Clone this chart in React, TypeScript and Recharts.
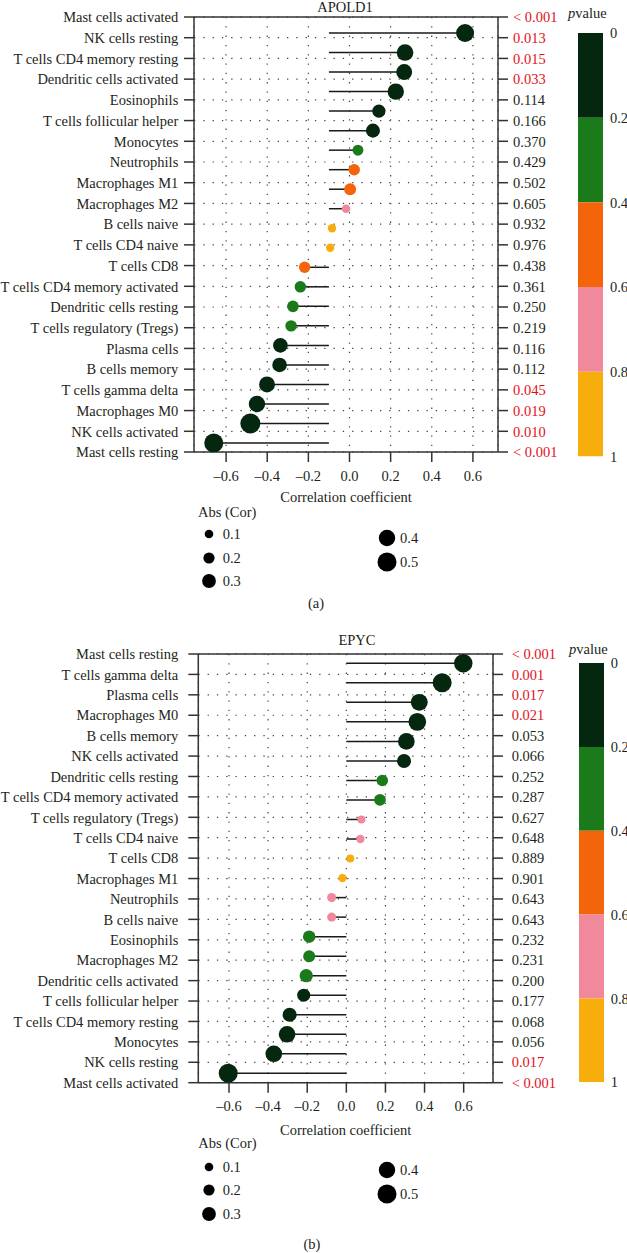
import React from "react";
import {
  Bar,
  BarChart,
  CartesianGrid,
  ErrorBar,
  ReferenceLine,
  Scatter,
  ScatterChart,
  XAxis,
  YAxis,
} from "recharts";

// ---- data: panel (a) APOLD1 ----
const cellsA = [
  "Mast cells activated",
  "NK cells resting",
  "T cells CD4 memory resting",
  "Dendritic cells activated",
  "Eosinophils",
  "T cells follicular helper",
  "Monocytes",
  "Neutrophils",
  "Macrophages M1",
  "Macrophages M2",
  "B cells naive",
  "T cells CD4 naive",
  "T cells CD8",
  "T cells CD4 memory activated",
  "Dendritic cells resting",
  "T cells regulatory (Tregs)",
  "Plasma cells",
  "B cells memory",
  "T cells gamma delta",
  "Macrophages M0",
  "NK cells activated",
  "Mast cells resting",
];
const corA = [
  0.562, 0.27, 0.266, 0.225, 0.143, 0.114, 0.041, 0.023, 0.003, -0.017, -0.085,
  -0.094, -0.218, -0.239, -0.275, -0.284, -0.336, -0.34, -0.401, -0.45, -0.482,
  -0.66,
];
const absA = [
  0.46, 0.41, 0.38, 0.4, 0.28, 0.31, 0.19, 0.21, 0.23, 0.1, 0.09, 0.09, 0.21,
  0.21, 0.22, 0.21, 0.33, 0.33, 0.38, 0.4, 0.54, 0.5,
];
const pA = [
  "< 0.001", "0.013", "0.015", "0.033", "0.114", "0.166", "0.370", "0.429",
  "0.502", "0.605", "0.932", "0.976", "0.438", "0.361", "0.250", "0.219",
  "0.116", "0.112", "0.045", "0.019", "0.010", "< 0.001",
];
const baseA = -0.1;

// ---- data: panel (b) EPYC ----
const cellsB = [
  "Mast cells resting",
  "T cells gamma delta",
  "Plasma cells",
  "Macrophages M0",
  "B cells memory",
  "NK cells activated",
  "Dendritic cells resting",
  "T cells CD4 memory activated",
  "T cells regulatory (Tregs)",
  "T cells CD4 naive",
  "T cells CD8",
  "Macrophages M1",
  "Neutrophils",
  "B cells naive",
  "Eosinophils",
  "Macrophages M2",
  "Dendritic cells activated",
  "T cells follicular helper",
  "T cells CD4 memory resting",
  "Monocytes",
  "NK cells resting",
  "Mast cells activated",
];
const corB = [
  0.598, 0.49, 0.373, 0.363, 0.307, 0.295, 0.184, 0.172, 0.077, 0.072, 0.02,
  -0.02, -0.075, -0.075, -0.19, -0.19, -0.205, -0.218, -0.29, -0.303, -0.371,
  -0.604,
];
const absB = [
  0.48, 0.5, 0.42, 0.45, 0.41, 0.31, 0.21, 0.22, 0.08, 0.09, 0.08, 0.09, 0.12,
  0.12, 0.25, 0.23, 0.28, 0.27, 0.31, 0.41, 0.41, 0.5,
];
const pB = [
  "< 0.001", "0.001", "0.017", "0.021", "0.053", "0.066", "0.252", "0.287",
  "0.627", "0.648", "0.889", "0.901", "0.643", "0.643", "0.232", "0.231",
  "0.200", "0.177", "0.068", "0.056", "0.017", "< 0.001",
];
const baseB = 0;

const xTicks = [-0.6, -0.4, -0.2, 0, 0.2, 0.4, 0.6];
const pBreaks = [0, 0.2, 0.4, 0.6, 0.8, 1];
const sizeKeys = [0.1, 0.2, 0.3, 0.4, 0.5];

// ---- style ----
const pColors = ["#05260f", "#1b7b1b", "#f4640b", "#f0899b", "#f7ad0b"];
const INK = "#231f20";
const RED = "#e3101c";
const AXIS = "#333";
const FS = 14.5;
const SERIF = '"Liberation Serif", "Times New Roman", serif';

const radius = (a: number) => 3 + 13 * a;
const pNum = (s: string) => (s.startsWith("<") ? 0 : parseFloat(s));
const pColor = (p: number) => pColors[Math.min(4, Math.floor(p / 0.2 + 1e-9))];
const fmtX = (v: number) => (v < 0 ? "\u2013" : "") + Math.abs(v).toFixed(1);

const layoutA = {
  plotLeft: 194, plotRight: 498, plotTop: 17.3, plotBottom: 452.3,
  xDomain: [-0.756, 0.722], dotDomain: [-0.82, 21.46],
  leftTickMargin: 5.7, rightTickMargin: 5, xTickMargin: 9, xLabelOffset: 10.5,
  title: { text: "APOLD1", cx: 345, baseline: 11.5 },
  bar: { left: 578, right: 603, top: 33.3, bottom: 456.7 },
  pTitle: { x: 568, cy: 13.3 },
  abs: { x: 198, cy: 512 },
  sizeCols: [
    { cx: 209.3, cy: 534, dy: 23.5, tx: 222.7 },
    { cx: 387.2, cy: 538, dy: 24, tx: 400 },
  ],
  caption: { text: "(a)", cx: 316, cy: 603 },
};

const layoutB = {
  plotLeft: 198.3, plotRight: 493, plotTop: 654, plotBottom: 1082.7,
  xDomain: [-0.757, 0.75], dotDomain: [-0.476, 21.48],
  leftTickMargin: 10, rightTickMargin: 8.7, xTickMargin: 8, xLabelOffset: 7.5,
  title: { text: "EPYC", cx: 357, baseline: 645 },
  bar: { left: 579.3, right: 604, top: 663.3, bottom: 1082.7 },
  pTitle: { x: 569, cy: 649 },
  abs: { x: 198.3, cy: 1143.3 },
  sizeCols: [
    { cx: 209.3, cy: 1166.7, dy: 23.7, tx: 222.7 },
    { cx: 386.7, cy: 1170, dy: 24, tx: 400 },
  ],
  caption: { text: "(b)", cx: 312, cy: 1244 },
};

type Layout = typeof layoutA;

function TextAt({ x, cy, children, style }: any) {
  return (
    <div
      style={{
        position: "absolute",
        left: x,
        top: cy - 9,
        fontSize: FS,
        lineHeight: "18px",
        whiteSpace: "nowrap",
        color: INK,
        ...style,
      }}
    >
      {children}
    </div>
  );
}

function LollipopChart({
  cells, cor, abs, pLabels, base, L,
}: {
  cells: string[]; cor: number[]; abs: number[]; pLabels: string[]; base: number; L: Layout;
}) {
  const data = cells.map((name, i) => ({
    row: i,
    name,
    value: cor[i],
    abs: abs[i],
    p: pNum(pLabels[i]),
    err: cor[i] >= base ? [cor[i] - base, 0] : [0, base - cor[i]],
  }));
  const rows = cells.map((_, i) => i);
  const chartH = L.plotBottom - L.plotTop + 100;

  return (
    <div style={{ position: "absolute", left: 0, top: L.plotTop - 20 }}>
      <ScatterChart
        width={627}
        height={chartH}
        margin={{
          top: 20,
          bottom: 20,
          left: L.plotLeft - 190,
          right: 627 - L.plotRight - 100,
        }}
      >
        <CartesianGrid
          xAxisId="x"
          yAxisId="left"
          stroke="#444"
          strokeWidth={1.2}
          strokeDasharray="1.3 8"
        />
        <XAxis
          xAxisId="x"
          type="number"
          dataKey="value"
          domain={L.xDomain}
          allowDataOverflow
          ticks={xTicks}
          interval={0}
          tickFormatter={fmtX}
          height={60}
          tickSize={10}
          tickMargin={L.xTickMargin}
          stroke={AXIS}
          strokeWidth={1.5}
          tick={{ fill: INK, fontSize: FS }}
          label={{
            value: "Correlation coefficient",
            position: "insideBottom",
            offset: L.xLabelOffset,
            fill: INK,
            fontSize: FS,
          }}
        />
        <YAxis
          yAxisId="left"
          type="number"
          domain={[0, cells.length - 1]}
          allowDataOverflow
          reversed
          ticks={rows}
          interval={0}
          width={190}
          tickSize={10}
          tickMargin={L.leftTickMargin}
          stroke={AXIS}
          strokeWidth={1.5}
          tick={(t: any) => (
            <text
              x={t.x}
              y={t.y}
              dy="0.36em"
              textAnchor="end"
              fontSize={FS}
              fill={INK}
            >
              {cells[t.payload.value]}
            </text>
          )}
        />
        <YAxis
          yAxisId="right"
          orientation="right"
          type="number"
          domain={[0, cells.length - 1]}
          allowDataOverflow
          reversed
          ticks={rows}
          interval={0}
          width={100}
          tickSize={10}
          tickMargin={L.rightTickMargin}
          stroke={AXIS}
          strokeWidth={1.5}
          tick={(t: any) => {
            const s = pLabels[t.payload.value];
            return (
              <text
                x={t.x}
                y={t.y}
                dy="0.36em"
                textAnchor="start"
                fontSize={FS}
                fill={pNum(s) < 0.05 ? RED : INK}
              >
                {s}
              </text>
            );
          }}
        />
        <YAxis
          yAxisId="dots"
          type="number"
          dataKey="row"
          domain={L.dotDomain}
          allowDataOverflow
          reversed
          hide
          width={0}
        />
        <ReferenceLine xAxisId="x" yAxisId="left" y={0} stroke={AXIS} strokeWidth={1.5} />
        <Scatter
          data={data}
          xAxisId="x"
          yAxisId="dots"
          isAnimationActive={false}
          shape={(s: any) => (
            <circle
              cx={s.cx}
              cy={s.cy}
              r={radius(s.payload.abs)}
              fill={pColor(s.payload.p)}
            />
          )}
        >
          <ErrorBar
            dataKey="err"
            direction="x"
            width={0}
            stroke="#1a1a1a"
            strokeWidth={1.5}
            isAnimationActive={false}
          />
        </Scatter>
      </ScatterChart>
    </div>
  );
}

function ColorBar({ L }: { L: Layout }) {
  const row: Record<string, any> = { name: "p" };
  pColors.forEach((_, i) => {
    row[`b${i}`] = pBreaks[i + 1] - pBreaks[i];
  });
  const { left, right, top, bottom } = L.bar;
  return (
    <div style={{ position: "absolute", left, top: top - 10 }}>
      <BarChart
        width={627 - left}
        height={bottom - top + 20}
        data={[row]}
        margin={{ top: 10, bottom: 10, left: 0, right: 0 }}
        barCategoryGap={0}
      >
        <XAxis dataKey="name" hide />
        <YAxis
          orientation="right"
          type="number"
          domain={[0, 1]}
          allowDataOverflow
          reversed
          ticks={pBreaks}
          interval={0}
          width={627 - right}
          axisLine={false}
          tickLine={false}
          tickSize={5}
          tickMargin={2}
          tickFormatter={(v: number) => (v === 0 || v === 1 ? String(v) : v.toFixed(1))}
          tick={{ fill: INK, fontSize: FS, textAnchor: "start" }}
        />
        {pColors.map((c, i) => (
          <Bar key={i} dataKey={`b${i}`} stackId="p" fill={c} isAnimationActive={false} />
        ))}
      </BarChart>
    </div>
  );
}

function SizeLegend({ L }: { L: Layout }) {
  return (
    <>
      <TextAt x={L.abs.x} cy={L.abs.cy}>Abs (Cor)</TextAt>
      {sizeKeys.map((k, i) => {
        const col = L.sizeCols[i < 3 ? 0 : 1];
        const cy = col.cy + (i < 3 ? i : i - 3) * col.dy;
        return (
          <React.Fragment key={k}>
            <svg
              width={24}
              height={24}
              style={{ position: "absolute", left: col.cx - 12, top: cy - 12 }}
            >
              <circle cx={12} cy={12} r={radius(k)} fill="#000" />
            </svg>
            <TextAt x={col.tx} cy={cy}>{k.toFixed(1)}</TextAt>
          </React.Fragment>
        );
      })}
    </>
  );
}

function Panel(props: {
  cells: string[]; cor: number[]; abs: number[]; pLabels: string[]; base: number; L: Layout;
}) {
  const L = props.L;
  return (
    <>
      <div
        style={{
          position: "absolute",
          left: L.title.cx - 100,
          width: 200,
          top: L.title.baseline - 13.7,
          textAlign: "center",
          fontSize: FS,
          lineHeight: "18px",
          color: INK,
        }}
      >
        {L.title.text}
      </div>
      <LollipopChart {...props} />
      <TextAt x={L.pTitle.x} cy={L.pTitle.cy}>
        <i>p</i>value
      </TextAt>
      <ColorBar L={L} />
      <SizeLegend L={L} />
      <TextAt
        x={L.caption.cx - 50}
        cy={L.caption.cy}
        style={{ width: 100, textAlign: "center" }}
      >
        {L.caption.text}
      </TextAt>
    </>
  );
}

export default function App() {
  return (
    <div
      style={{
        position: "absolute",
        left: 0,
        top: 0,
        width: 627,
        height: 1253,
        overflow: "hidden",
        background: "#fff",
        fontFamily: SERIF,
      }}
    >
      <Panel cells={cellsA} cor={corA} abs={absA} pLabels={pA} base={baseA} L={layoutA} />
      <Panel cells={cellsB} cor={corB} abs={absB} pLabels={pB} base={baseB} L={layoutB} />
    </div>
  );
}
